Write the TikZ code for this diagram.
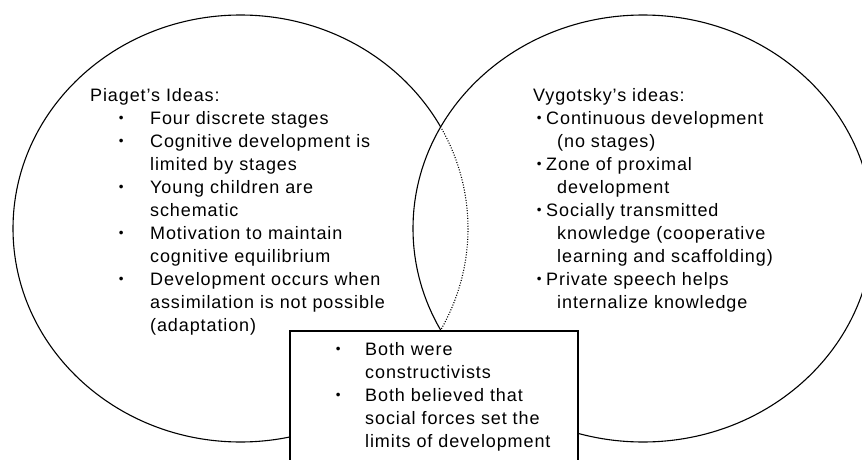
\documentclass[tikz,border=0pt]{standalone}
\usepackage{fontspec}
\setmainfont{Liberation Sans}[LetterSpace=5]
\usepackage{graphicx}
\tikzset{ring/.style={line width=1.1pt},
  hidden/.style={line width=1.1pt, dash pattern=on 1pt off 1.6pt},
  idea/.style={anchor=base west, inner sep=0pt, align=left,
    font=\fontsize{18}{23}\selectfont}}
\newcommand{\dotb}{\raisebox{1.6pt}{\scalebox{0.75}{\textbullet}}}
\newcommand{\bitem}[3]{\hspace*{#1pt}\makebox[0pt]{\dotb}\hspace*{#2pt}#3}
\newcommand{\cont}[2]{\hspace*{#1pt}#2}

\begin{document}
\begin{tikzpicture}[x=1pt,y=-1pt]
  \useasboundingbox (0,0) rectangle (862,460);
  \clip (0,0) rectangle (862,460);
  \coordinate (pc) at (240.5,228.5);
  \coordinate (vc) at (643,228.5);
  % the two circles, Piaget's arc dotted inside Vygotsky's
  \draw[ring] (pc) ellipse [x radius=227.5, y radius=213.5];
  \fill[white] (vc) ellipse [x radius=230, y radius=213.5];
  \begin{scope}
    \clip (vc) ellipse [x radius=230, y radius=213.5];
    \draw[hidden] (pc) ellipse [x radius=227.5, y radius=213.5];
  \end{scope}
  \draw[ring] (vc) ellipse [x radius=230, y radius=213.5];
  % shared box
  \draw[ring, fill=white] (290,331) rectangle (578,475);

  % base anchor sits on the last line
  \node[idea] (piaget) at (90,331.5) {Piaget's Ideas:\\
    \bitem{31}{29}{Four discrete stages}\\
    \bitem{31}{29}{Cognitive development is}\\
    \cont{60}{limited by stages}\\
    \bitem{31}{29}{Young children are}\\
    \cont{60}{schematic}\\
    \bitem{31}{29}{Motivation to maintain}\\
    \cont{60}{cognitive equilibrium}\\
    \bitem{31}{29}{Development occurs when}\\
    \cont{60}{assimilation is not possible}\\
    \cont{60}{(adaptation)}};
  \node[idea] (vygotsky) at (533,308.5) {Vygotsky's ideas:\\
    \bitem{6}{7}{Continuous development}\\
    \cont{24}{(no stages)}\\
    \bitem{6}{7}{Zone of proximal}\\
    \cont{24}{development}\\
    \bitem{6}{7}{Socially transmitted}\\
    \cont{24}{knowledge (cooperative}\\
    \cont{24}{learning and scaffolding)}\\
    \bitem{6}{7}{Private speech helps}\\
    \cont{24}{internalize knowledge}};
  \node[idea] (both) at (338,447) {\bitem{0}{27}{Both were}\\
    \cont{27}{constructivists}\\
    \bitem{0}{27}{Both believed that}\\
    \cont{27}{social forces set the}\\
    \cont{27}{limits of development}};
\end{tikzpicture}
\end{document}
